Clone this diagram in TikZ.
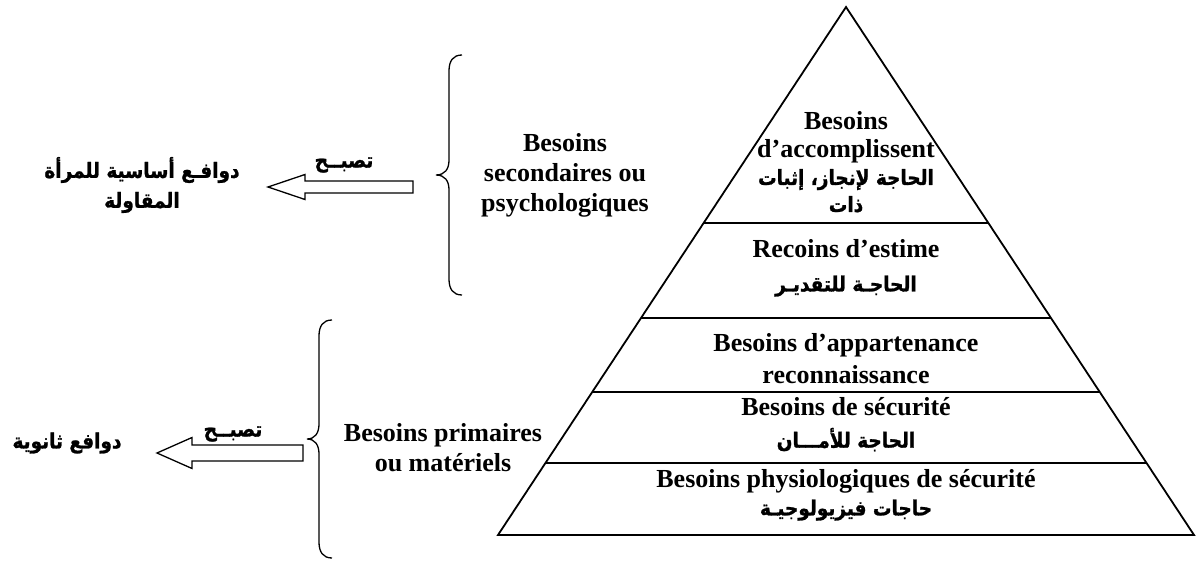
\documentclass[tikz,border=0pt]{standalone}
\usepackage{fontspec}
\setmainfont{Liberation Serif}
\newfontfamily\arabicfont[Script=Arabic,FakeStretch=0.88,BoldFeatures={FakeBold=1.2}]{DejaVu Sans}
\TeXXeTstate=1
\usetikzlibrary{calc}

% Arabic text run, right to left
\newcommand\artxt[1]{{\arabicfont\bfseries\fontsize{21}{24}\selectfont\beginR #1\endR}}

\tikzset{
  edge/.style={line width=1.8pt, line join=miter},
  lbl/.style={font=\fontsize{26}{30}\selectfont\bfseries, align=center, inner sep=0pt},
  bracepath/.style={line width=1.3pt},
  blockarrow/.style={line width=1.3pt, line join=miter},
}

\begin{document}
\begin{tikzpicture}[x=1pt,y=-1pt]
\useasboundingbox (0,0) rectangle (1197,561);

% pyramid
\coordinate (apex) at (846,7);
\coordinate (bl) at (498,535);
\coordinate (br) at (1194,535);
\draw[edge] (bl) -- (apex) -- (br) -- cycle;
\foreach \f in {0.4091,0.5890,0.7292,0.8636}
  \draw[edge] ($(apex)!\f!(bl)$) -- ($(apex)!\f!(br)$);

% levels
\node[lbl] (lvl5) at (846,162) {Besoins\\[-2pt] d’accomplissent\\[-2.5pt] \artxt{الحاجة لإنجاز، إثبات}\\[-3pt] \artxt{ذات}};
\node[lbl] (lvl4) at (846,268) {Recoins d’estime\\[4pt] \artxt{الحاجـة للتقديـر}};
\node[lbl] (lvl3) at (846,359) {Besoins d’appartenance\\[2pt] reconnaissance};
\node[lbl] (lvl2) at (846,424.5) {Besoins de sécurité\\[2pt] \artxt{الحاجة للأمـــان}};
\node[lbl] (lvl1) at (846,495) {Besoins physiologiques de sécurité\\[-2pt] \artxt{حاجات فيزيولوجيـة}};

% groups
\node[lbl] (sec) at (565,175) {Besoins\\ secondaires ou\\ psychologiques};
\node[lbl] (prim) at (443,447.5) {Besoins primaires\\ ou matériels};

% braces
\draw[bracepath] (462,55) .. controls (453,55) and (449,61) .. (449,71)
  -- (449,160) .. controls (449,169) and (445,175) .. (436,175)
  .. controls (445,175) and (449,181) .. (449,190)
  -- (449,279) .. controls (449,289) and (453,295) .. (462,295);
\draw[bracepath] (332,320) .. controls (323,320) and (319,326) .. (319,336)
  -- (319,424) .. controls (319,433) and (315,439) .. (307,439)
  .. controls (315,439) and (319,445) .. (319,454)
  -- (319,542) .. controls (319,552) and (323,558) .. (332,558);

% block arrows
\draw[blockarrow] (268,187) -- (305,174.5) -- (305,181) -- (413,181)
  -- (413,193) -- (305,193) -- (305,199.5) -- cycle;
\draw[blockarrow] (157,453) -- (192,437.5) -- (192,445) -- (303,445)
  -- (303,461) -- (192,461) -- (192,468.5) -- cycle;

\node[lbl] (becomes1) at (344,165) {\artxt{تصبــح}};
\node[lbl] (becomes2) at (233,434) {\artxt{تصبــح}};

% outcomes
\node[lbl] (main) at (142,185) {\artxt{دوافـع أساسية للمرأة}\\ \artxt{المقاولة}};
\node[lbl] (second) at (67,443) {\artxt{دوافع ثانوية}};
\end{tikzpicture}
\end{document}
